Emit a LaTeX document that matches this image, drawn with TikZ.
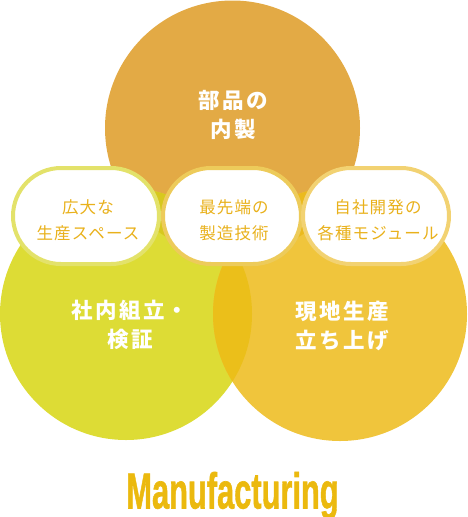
\documentclass[tikz,border=0pt]{standalone}
\usepackage{fontspec}
\setmainfont{Liberation Sans}
\newfontfamily\ttl[BoldFeatures={FakeBold=1.3}]{Liberation Sans}
\newfontfamily\jpc[LetterSpace=11]{Noto Sans CJK JP}
\newfontfamily\jpp[LetterSpace=7]{Noto Sans CJK JP}
\usetikzlibrary{shapes.misc}
\definecolor{cT}{HTML}{E3AA45}
\definecolor{cL}{HTML}{DDDC35}
\definecolor{cR}{HTML}{F0C53C}
\definecolor{cLR}{HTML}{EBBF1A}
\definecolor{cTL}{HTML}{D7C81E}
\definecolor{cTR}{HTML}{EBBA1E}
\definecolor{cTLR}{HTML}{E6B41E}
\definecolor{ringL}{HTML}{E3E26A}
\definecolor{ringM}{HTML}{EDCB5A}
\definecolor{ringR}{HTML}{F2D272}
\definecolor{cTxt}{HTML}{E9B11B}
\definecolor{cTitle}{HTML}{EBB90E}
\tikzset{
  pill/.style={rounded rectangle, fill=white, line width=4pt, minimum width=146pt,
    minimum height=96pt, inner sep=0pt},
  pilltext/.style={align=center, text=cTxt, inner sep=0pt,
    font=\jpp\fontsize{16.5}{26.5}\selectfont},
  circtext/.style={align=center, text=white, inner sep=0pt,
    font=\jpc\bfseries\fontsize{21.5}{29.5}\selectfont},
}
\begin{document}
\begin{tikzpicture}[x=1pt,y=-1pt]
\useasboundingbox (0,0) rectangle (468,517);
\coordinate (T) at (232.5,128);
\coordinate (L) at (126,314);
\coordinate (R) at (340,314);
\fill[cT] (T) circle[radius=127.5];
\fill[cL] (L) circle[radius=126];
\fill[cR] (R) circle[radius=127];
\begin{scope}\clip (L) circle[radius=126]; \fill[cLR] (R) circle[radius=127]; \end{scope}
\begin{scope}\clip (T) circle[radius=127.5]; \fill[cTL] (L) circle[radius=126]; \end{scope}
\begin{scope}\clip (T) circle[radius=127.5]; \fill[cTR] (R) circle[radius=127]; \end{scope}
\begin{scope}\clip (T) circle[radius=127.5]; \clip (L) circle[radius=126]; \fill[cTLR] (R) circle[radius=127]; \end{scope}

\node[pill, draw=ringL] (p1) at (86,216) {};
\node[pill, draw=ringM, minimum width=138pt] (p2) at (232,216) {};
\node[pill, draw=ringR] (p3) at (376,216) {};
\node[pilltext] (l1) at (88,220) {広大な\\生産スペース};
\node[pilltext] (l2) at (234,220) {最先端の\\製造技術};
\node[pilltext] (l3) at (378,220) {自社開発の\\各種モジュール};

\node[circtext] (t1) at (233,115) {部品の\\内製};
\node[circtext] (t2) at (130,325) {社内組立・\\検証};
\node[circtext] (t3) at (342,326) {現地生産\\立ち上げ};

\node[anchor=base, inner sep=0pt, text=cTitle] (title) at (232.5,508.5)
  {\scalebox{0.67}[1.1]{\fontsize{46}{46}\selectfont\ttl\bfseries Manufacturing}};
\end{tikzpicture}
\end{document}
